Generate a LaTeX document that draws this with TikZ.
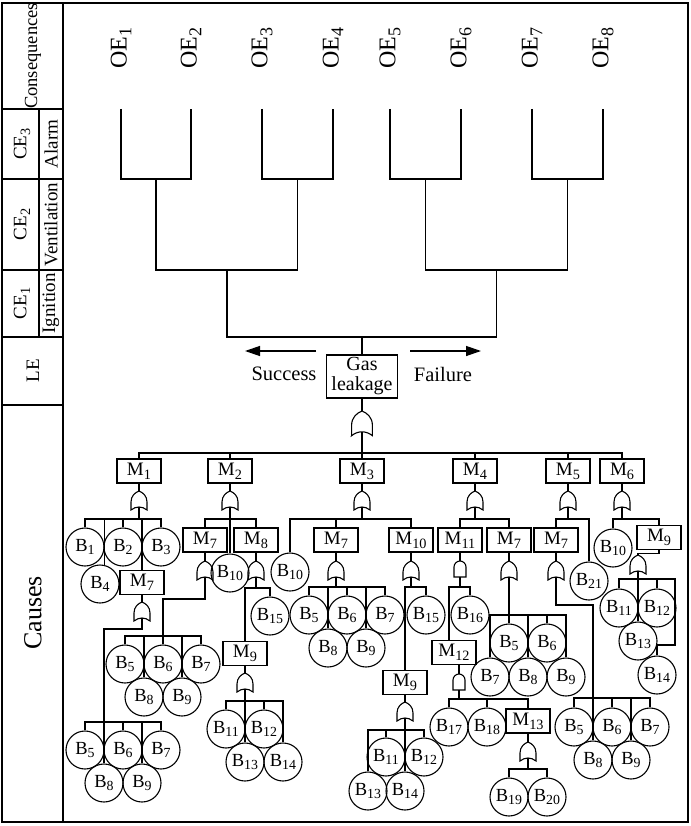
\documentclass[tikz,border=0pt]{standalone}
\usepackage{fontspec}
\usepackage{graphicx}
\setmainfont{Liberation Serif}
\usetikzlibrary{arrows.meta}
\newcommand{\sbs}[1]{\raisebox{-0.2em}{\scalebox{0.75}{#1}}}
\tikzset{
  orgate/.pic={
    \draw (-8,19) -- (-8,11) .. controls (-8,5) and (-4,1.5) .. (0,0) .. controls (4,1.5) and (8,5) .. (8,11) -- (8,19) .. controls (3,15) and (-3,15) .. cycle;
    \coordinate (-top) at (0,0);
    \coordinate (-bot) at (0,16);
  },
  andgate/.pic={
    \draw (-6,16) -- (-6,6) .. controls (-6,2.7) and (-3.3,0) .. (0,0) .. controls (3.3,0) and (6,2.7) .. (6,6) -- (6,16) -- cycle;
    \coordinate (-top) at (0,0);
    \coordinate (-bot) at (0,16);
  }
}
\begin{document}
\begin{tikzpicture}[x=1pt,y=-1pt,line width=1.1pt,
  mbox/.style={draw,minimum width=44pt,minimum height=24pt,inner sep=0pt,font=\fontsize{19}{19}\selectfont},
  bc/.style={draw,circle,minimum size=38pt,inner sep=0pt,font=\fontsize{18.5}{18.5}\selectfont},
  lbl/.style={rotate=90,inner sep=0pt,font=\fontsize{19}{19}\selectfont},
  oe/.style={rotate=90,inner sep=0pt,font=\fontsize{24}{24}\selectfont},
  arr/.style={-{Triangle[length=15pt,width=10pt]},line width=1.3pt}]
\useasboundingbox (0,0) rectangle (690,826);
% frame and left column
\draw (2,3) rectangle (688,822);
\draw (63,3) -- (63,822);
\foreach \y in {109,179,270,337,405} \draw (2,\y) -- (63,\y);
\draw (39,109) -- (39,337);
\node[lbl,font=\fontsize{18.5}{18.5}\selectfont] (lcons) at (33,56) {Consequences};
\node[lbl] (lce3) at (22,144) {CE\sbs{3}};
\node[lbl] (lalarm) at (51,144) {Alarm};
\node[lbl] (lce2) at (22,224.5) {CE\sbs{2}};
\node[lbl] (lvent) at (51,224.5) {Ventilation};
\node[lbl] (lce1) at (22,303.5) {CE\sbs{1}};
\node[lbl] (lign) at (51,303.5) {Ignition};
\node[lbl] (lle) at (33,371) {LE};
\node[lbl,font=\fontsize{26}{26}\selectfont] (lcause) at (33,613) {Causes};
% event tree
\foreach \i/\x in {1/121,2/191,3/262,4/333,5/390,6/461,7/532,8/603}{
  \node[oe] (oe\i) at (\x,48) {OE\sbs{\i}};
  \coordinate (ea\i) at (\x,109);
}
\coordinate (eb1) at (156,179);
\coordinate (eb2) at (297.5,179);
\coordinate (eb3) at (425.5,179);
\coordinate (eb4) at (567.5,179);
\coordinate (ec1) at (227,270);
\coordinate (ec2) at (496.5,270);
\coordinate (ed1) at (362,337);
\draw (ea1) |- (eb1) -| (ea2);
\draw (ea3) |- (eb2) -| (ea4);
\draw (ea5) |- (eb3) -| (ea6);
\draw (ea7) |- (eb4) -| (ea8);
\draw (eb1) |- (ec1) -| (eb2);
\draw (eb3) |- (ec2) -| (eb4);
\draw (ec1) |- (ed1) -| (ec2);
\node[draw,align=center,minimum width=71pt,minimum height=43pt,inner sep=0pt,font=\fontsize{20}{20}\selectfont] (gas) at (362,376.5) {Gas\\leakage};
\draw (ed1) -- (gas.north);
\coordinate (sa) at (316,351);
\coordinate (sb) at (245,351);
\coordinate (fa) at (410,351);
\coordinate (fb) at (481,351);
\draw[arr] (sa) -- (sb);
\draw[arr] (fa) -- (fb);
\node[font=\fontsize{20.5}{20.5}\selectfont] (succ) at (284,374) {Success};
\node[font=\fontsize{20.5}{20.5}\selectfont] (fail) at (443,374) {Failure};
% top gate
\pic[scale=1.3] (g0) at (362,411) {orgate};
\draw (gas.south) -- (g0-top);
\coordinate (bus0) at (362,453);
\draw (g0-bot) -- (bus0);
\node[mbox] (m1) at (139,471) {M\sbs{1}};
\node[mbox] (m2) at (230,471) {M\sbs{2}};
\node[mbox] (m3) at (362,471) {M\sbs{3}};
\node[mbox] (m4) at (475,471) {M\sbs{4}};
\node[mbox] (m5) at (568,471) {M\sbs{5}};
\node[mbox] (m6) at (622,471) {M\sbs{6}};
\draw (m1.north) -- (m1.north |- bus0) -- (m6.north |- bus0) -- (m6.north);
\foreach \m in {m2,m3,m4,m5} \draw (\m.north) -- (\m.north |- bus0);
\foreach \m/\x in {1/139,2/230,3/362,4/475,5/568,6/622}{
  \pic (g\m) at (\x,491) {orgate};
  \draw (m\m.south) -- (g\m-top);
  \coordinate (s\m) at (\x,519);
}
% ---- M1
\node[bc] (ab1) at (85,547) {B\sbs{1}};
\node[bc] (ab2) at (123,547) {B\sbs{2}};
\node[bc] (ab3) at (161,547) {B\sbs{3}};
\node[bc] (ab4) at (100,584) {B\sbs{4}};
\node[mbox] (m7a) at (142,582.5) {M\sbs{7}};
\draw (g1-bot) -- (s1);
\draw (ab1.north) -- (ab1.north |- s1) -- (ab3.north |- s1) -- (ab3.north);
\draw (ab2.north) -- (ab2.north |- s1);
\draw (m7a.north) -- (m7a.north |- s1);
\draw (ab4.78) -- (ab4.78 |- s1);
\pic (g7a) at (142,602) {orgate};
\draw (m7a.south) -- (g7a-top);
\node[bc] (cb5) at (85,750) {B\sbs{5}};
\node[bc] (cb6) at (123,750) {B\sbs{6}};
\node[bc] (cb7) at (161,750) {B\sbs{7}};
\node[bc] (cb8) at (104,783) {B\sbs{8}};
\node[bc] (cb9) at (142,783) {B\sbs{9}};
\coordinate (cbus) at (104,722);
\draw (g7a-bot) -- ++(0,11) -| (cbus);
\draw (cb5.north) -- (cb5.north |- cbus) -- (cb7.north |- cbus) -- (cb7.north);
\foreach \b in {cb6,cb8,cb9} \draw (\b.north) -- (\b.north |- cbus);
% ---- M2
\node[mbox] (m7b) at (205,540) {M\sbs{7}};
\node[mbox] (m8) at (256,540) {M\sbs{8}};
\node[bc] (bb10) at (230,573) {B\sbs{10}};
\draw (g2-bot) -- (bb10.north);
\draw (m7b.north) |- (s2) -| (m8.north);
\pic (g7b) at (205,561) {orgate};
\draw (m7b.south) -- (g7b-top);
\node[bc] (db5) at (125,664) {B\sbs{5}};
\node[bc] (db6) at (163,664) {B\sbs{6}};
\node[bc] (db7) at (201,664) {B\sbs{7}};
\node[bc] (db8) at (144,697) {B\sbs{8}};
\node[bc] (db9) at (182,697) {B\sbs{9}};
\coordinate (dbus) at (163,636);
\draw (g7b-bot) -- ++(0,22) -| (dbus);
\draw (db5.north) -- (db5.north |- dbus) -- (db7.north |- dbus) -- (db7.north);
\foreach \b in {db6,db8,db9} \draw (\b.north) -- (\b.north |- dbus);
\pic (g8) at (256,561) {orgate};
\draw (m8.south) -- (g8-top);
\coordinate (s8) at (256,588);
\draw (g8-bot) -- (s8);
\node[bc] (eb15) at (270,616) {B\sbs{15}};
\node[mbox] (m9a) at (245,653.5) {M\sbs{9}};
\draw (m9a.north) |- (s8) -| (eb15.north);
\pic (g9a) at (245,673) {orgate};
\draw (m9a.south) -- (g9a-top);
\node[bc] (fb11) at (226,729) {B\sbs{11}};
\node[bc] (fb12) at (264,729) {B\sbs{12}};
\node[bc] (fb13) at (245,762) {B\sbs{13}};
\node[bc] (fb14) at (283,762) {B\sbs{14}};
\coordinate (fbus) at (245,701);
\draw (g9a-bot) -- (fb13.north);
\draw (fb11.north) -- (fb11.north |- fbus) -- (fb14.north |- fbus) -- (fb14.north);
\draw (fb12.north) -- (fb12.north |- fbus);
% ---- M3
\node[bc] (gb10) at (290,572) {B\sbs{10}};
\node[mbox] (m7c) at (336,540) {M\sbs{7}};
\node[mbox] (m10) at (411,540) {M\sbs{10}};
\draw (g3-bot) -- (s3);
\draw (gb10.north) |- (s3) -| (m10.north);
\draw (m7c.north) -- (m7c.north |- s3);
\pic (g7c) at (336,561) {orgate};
\draw (m7c.south) -- (g7c-top);
\coordinate (hbus) at (336,587);
\draw (g7c-bot) -- (hbus);
\node[bc] (hb5) at (309,615) {B\sbs{5}};
\node[bc] (hb6) at (347,615) {B\sbs{6}};
\node[bc] (hb7) at (385,615) {B\sbs{7}};
\node[bc] (hb8) at (328,648) {B\sbs{8}};
\node[bc] (hb9) at (366,648) {B\sbs{9}};
\draw (hb5.north) -- (hb5.north |- hbus) -- (hb7.north |- hbus) -- (hb7.north);
\foreach \b in {hb6,hb8,hb9} \draw (\b.north) -- (\b.north |- hbus);
\pic (g10) at (411,561) {orgate};
\draw (m10.south) -- (g10-top);
\coordinate (s10) at (411,587);
\draw (g10-bot) -- (s10);
\node[bc] (ib15) at (426,615) {B\sbs{15}};
\node[mbox] (m9b) at (405,682.5) {M\sbs{9}};
\draw (m9b.north) |- (s10) -| (ib15.north);
\pic (g9b) at (405,702) {orgate};
\draw (m9b.south) -- (g9b-top);
\node[bc] (jb11) at (386,757) {B\sbs{11}};
\node[bc] (jb12) at (424,757) {B\sbs{12}};
\node[bc] (jb13) at (368,791) {B\sbs{13}};
\node[bc] (jb14) at (405,791) {B\sbs{14}};
\coordinate (jbus) at (405,730);
\draw (g9b-bot) -- (jb14.north);
\draw (jb13.north) -- (jb13.north |- jbus) -- (jb12.north |- jbus) -- (jb12.north);
\draw (jb11.north) -- (jb11.north |- jbus);
% ---- M4
\node[mbox] (m11) at (460,540) {M\sbs{11}};
\node[mbox] (m7d) at (509,540) {M\sbs{7}};
\draw (g4-bot) -- (s4);
\draw (m11.north) |- (s4) -| (m7d.north);
\pic (g11) at (460,561) {andgate};
\draw (m11.south) -- (g11-top);
\coordinate (s11) at (460,587);
\coordinate (s11l) at (449,587);
\draw (g11-bot) -- (s11);
\node[bc] (kb16) at (470,615) {B\sbs{16}};
\node[mbox] (m12) at (454,652.5) {M\sbs{12}};
\draw (m12.north -| s11l) |- (s11) -| (kb16.north);
\pic (g12) at (459,674) {andgate};
\draw (m12.south -| g12-top) -- (g12-top);
\coordinate (s12) at (459,699);
\draw (g12-bot) -- (s12);
\node[bc] (lb17) at (449,727) {B\sbs{17}};
\node[bc] (lb18) at (487,727) {B\sbs{18}};
\node[mbox] (m13) at (528,721) {M\sbs{13}};
\draw (lb17.north) |- (s12) -| (m13.north);
\draw (lb18.north) -- (lb18.north |- s12);
\pic (g13) at (528,742) {orgate};
\draw (m13.south) -- (g13-top);
\coordinate (s13) at (528,769);
\draw (g13-bot) -- (s13);
\node[bc] (nb19) at (509,797) {B\sbs{19}};
\node[bc] (nb20) at (547,797) {B\sbs{20}};
\draw (nb19.north) |- (s13) -| (nb20.north);
\pic (g7d) at (509,561) {orgate};
\draw (m7d.south) -- (g7d-top);
\node[bc] (ob5) at (509,643) {B\sbs{5}};
\node[bc] (ob6) at (547,643) {B\sbs{6}};
\node[bc] (ob7) at (490,677) {B\sbs{7}};
\node[bc] (ob8) at (528,677) {B\sbs{8}};
\node[bc] (ob9) at (566,677) {B\sbs{9}};
\coordinate (obus) at (509,615);
\draw (g7d-bot) -- (ob5.north);
\draw (ob7.north) -- (ob7.north |- obus) -- (ob9.north |- obus) -- (ob9.north);
\foreach \b in {ob6,ob8} \draw (\b.north) -- (\b.north |- obus);
% ---- M5
\node[mbox] (m7e) at (556,540) {M\sbs{7}};
\node[bc] (qb21) at (589,581) {B\sbs{21}};
\draw (g5-bot) -- (s5);
\draw (m7e.north) |- (s5) -| (qb21.north);
\pic (g7e) at (556,561) {orgate};
\draw (m7e.south) -- (g7e-top);
\node[bc] (rb5) at (574,727) {B\sbs{5}};
\node[bc] (rb6) at (612,727) {B\sbs{6}};
\node[bc] (rb7) at (650,727) {B\sbs{7}};
\node[bc] (rb8) at (593,760) {B\sbs{8}};
\node[bc] (rb9) at (631,760) {B\sbs{9}};
\coordinate (rbus) at (593,698);
\draw (g7e-bot) -- ++(0,28) -| (rb8.north);
\draw (rb5.north) -- (rb5.north |- rbus) -- (rb7.north |- rbus) -- (rb7.north);
\foreach \b in {rb6,rb9} \draw (\b.north) -- (\b.north |- rbus);
% ---- M6
\node[bc] (sb10) at (613,548) {B\sbs{10}};
\node[mbox] (m9c) at (659,537.5) {M\sbs{9}};
\draw (g6-bot) -- (s6);
\draw (sb10.north) |- (s6) -| (m9c.north);
\pic (g9c) at (638,555) {orgate};
\draw (m9c.south) -- ++(0,3) -| (g9c-top);
\coordinate (tbus) at (638,579);
\coordinate (tr) at (675,579);
\node[bc] (tb11) at (619,608) {B\sbs{11}};
\node[bc] (tb12) at (657,608) {B\sbs{12}};
\node[bc] (tb13) at (638,641) {B\sbs{13}};
\node[bc] (tb14) at (657,675) {B\sbs{14}};
\draw (g9c-bot) -- (tb13.north);
\draw (tb11.north) |- (tbus) -- (tr) -- ++(0,66) -| (tb14.north);
\draw (tb12.north) -- (tb12.north |- tbus);
\end{tikzpicture}
\end{document}
